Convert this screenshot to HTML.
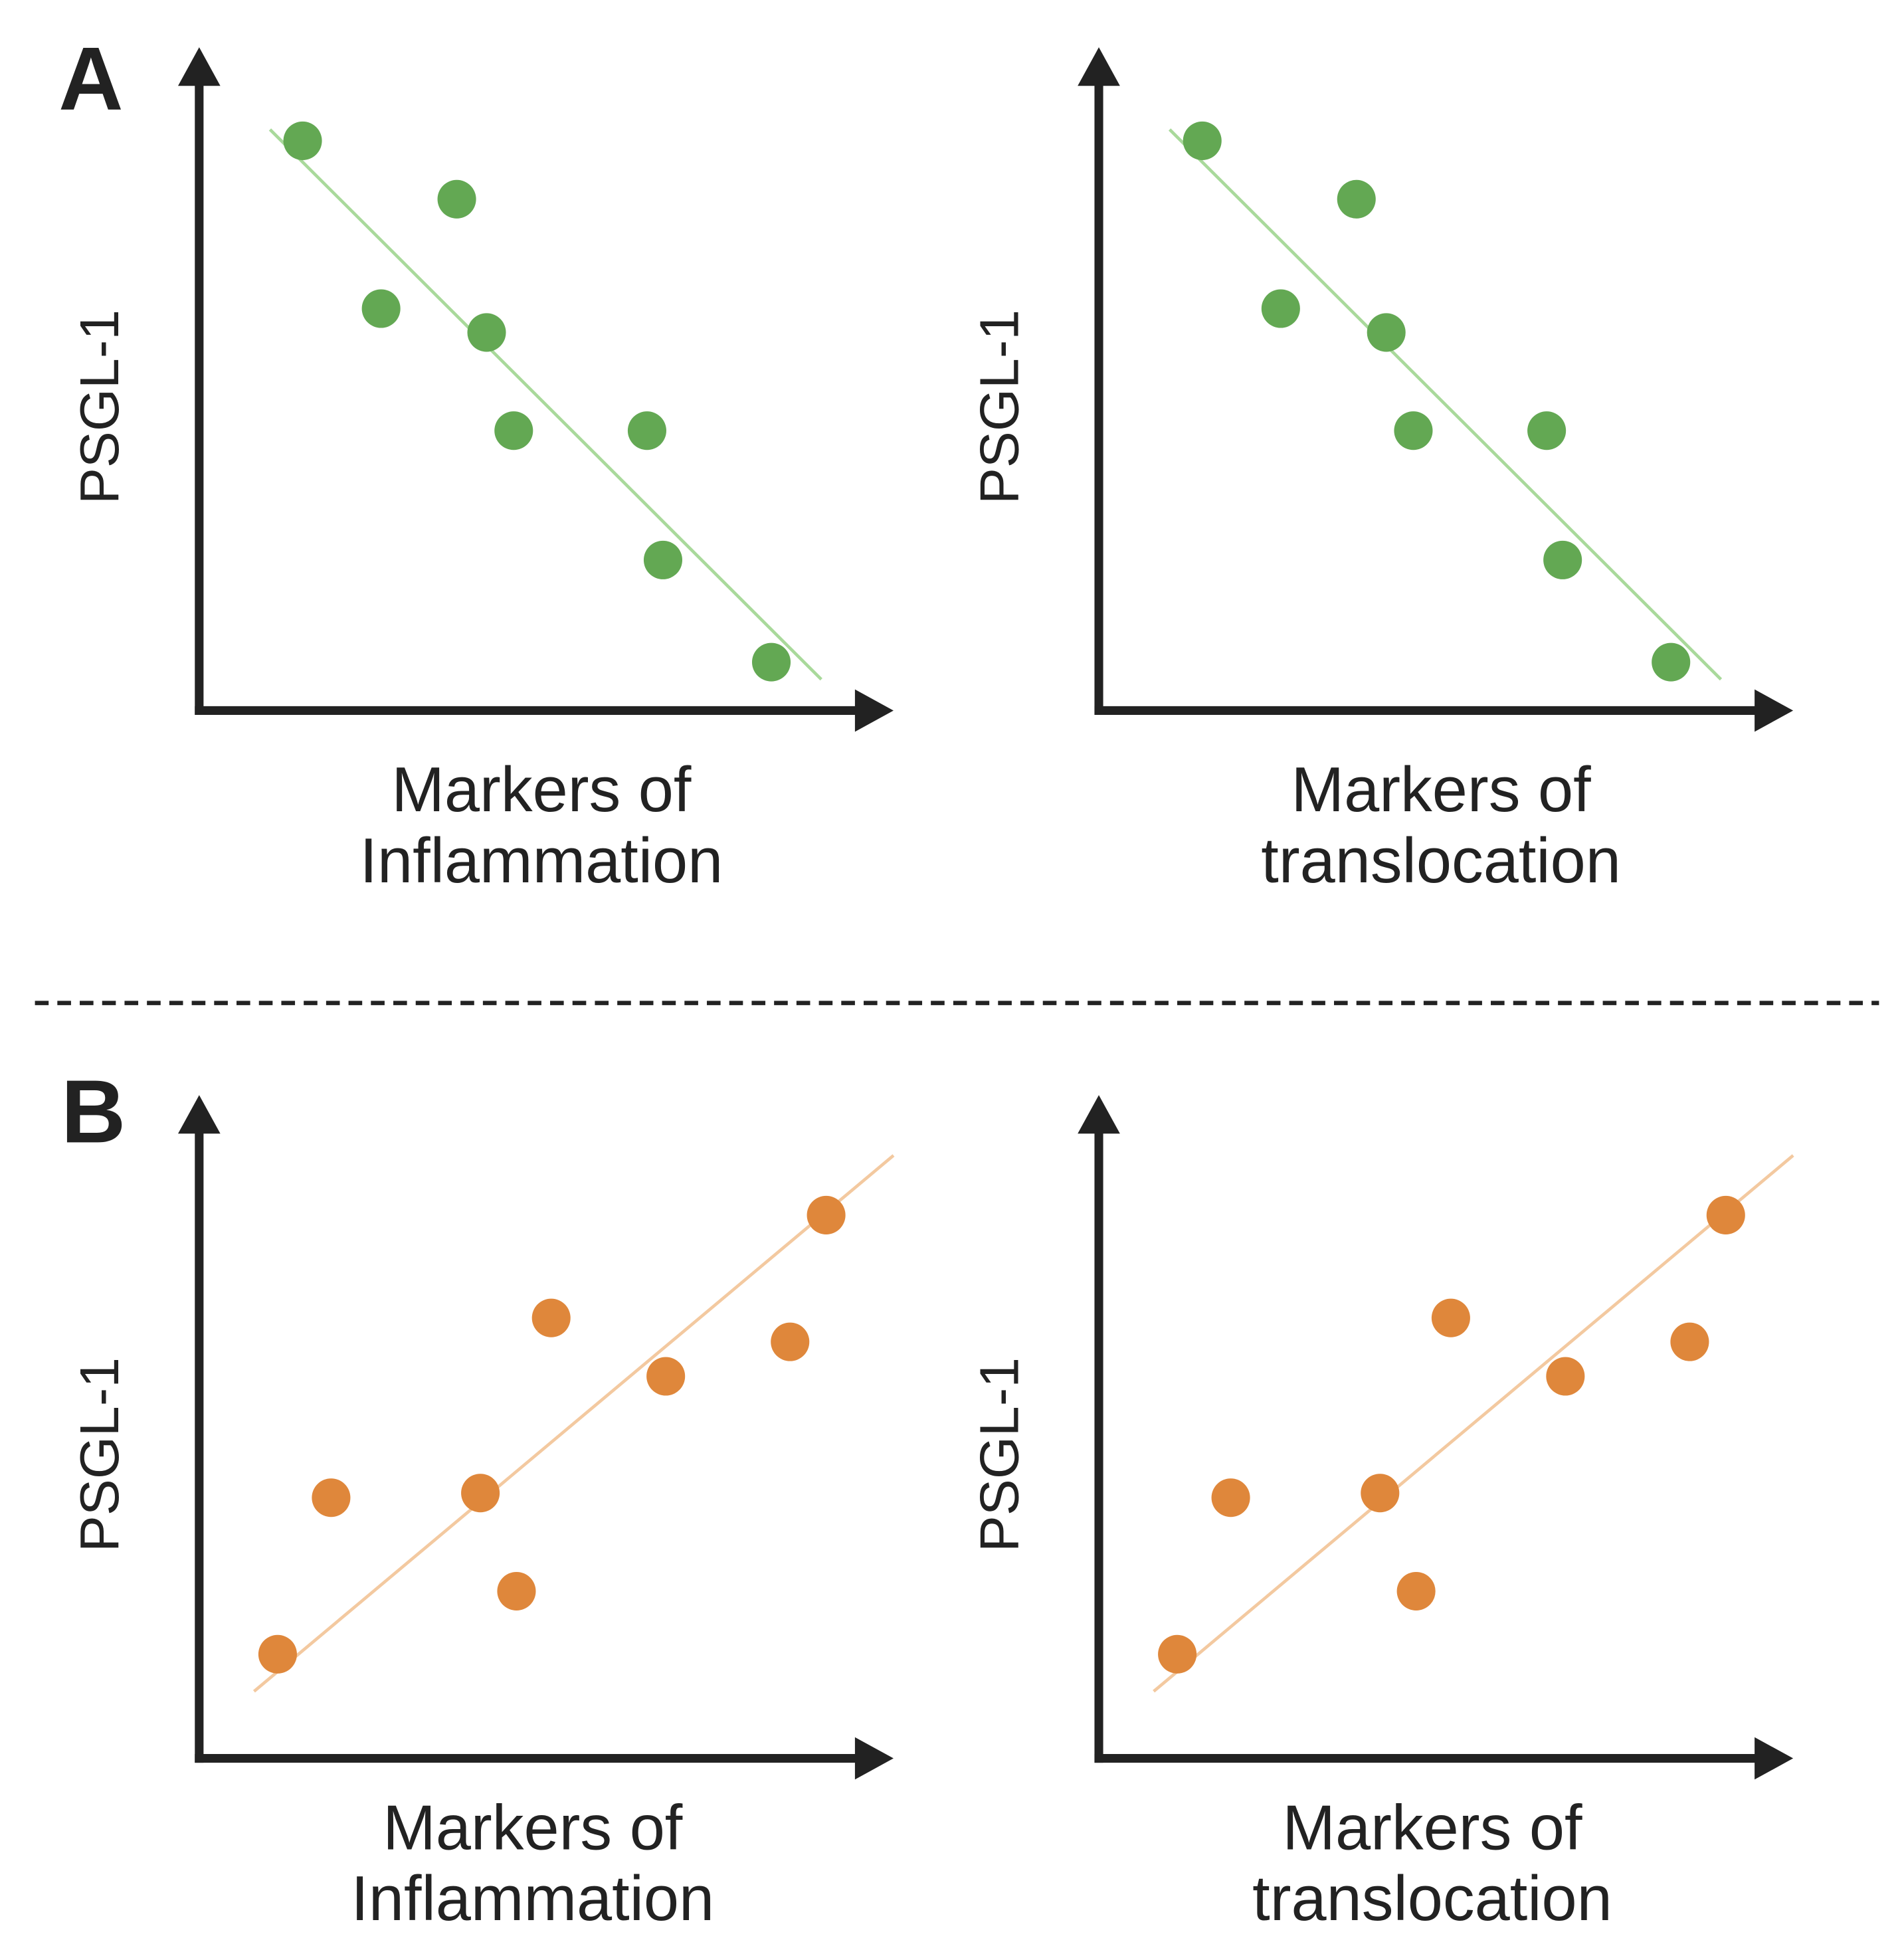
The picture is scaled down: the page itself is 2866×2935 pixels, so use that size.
<!DOCTYPE html>
<html><head><meta charset="utf-8"><style>
html,body{margin:0;padding:0;background:#fff}
svg{display:block}
text{font-family:"Liberation Sans",sans-serif;fill:#222}
</style></head><body>
<svg id="fig" width="2866" height="2935" viewBox="0 0 1530 1567" xmlns="http://www.w3.org/2000/svg">
<text x="47" y="88" font-size="72" font-weight="bold">A</text>
<text x="49" y="918" font-size="72" font-weight="bold">B</text>
<line x1="28" y1="806" x2="1510" y2="806" stroke="#222" stroke-width="3.5" stroke-dasharray="11 7"/>
<g id="plots"></g>
</svg>
<script>
// Panel A: negative correlation (green)
const aX = [1.49, 3.71, 2.62, 4.14, 4.53, 6.45, 6.68, 8.24];
const aY = [8.59, 7.71, 6.06, 5.70, 4.22, 4.22, 2.27, 0.73];
const aLineX = [1.02, 8.96];
const aLineY = [8.76, 0.47];
// Panel B: positive correlation (orange)
const bX = [1.13, 1.90, 4.05, 4.57, 5.07, 6.72, 8.51, 9.03];
const bY = [1.57, 3.93, 4.00, 2.52, 6.64, 5.76, 6.28, 8.19];
const bLineX = [0.79, 10.0];
const bLineY = [1.01, 9.09];
const xLabels = [["Markers of", "Inflammation"], ["Markers of", "translocation"]];
const yLabel = "PSGL-1";

const NS = "http://www.w3.org/2000/svg";
const root = document.getElementById('plots');
function mk(tag, attrs, parent) {
  const e = document.createElementNS(NS, tag);
  for (const k in attrs) e.setAttribute(k, attrs[k]);
  parent.appendChild(e);
  return e;
}
function panel(ox, oy, xs, ys, lx, ly, dot, lineCol, labels, name, ldx, ldy) {
  const g = mk('g', {}, root);
  
  
  const x0 = ox, x1 = ox + 558, y0 = oy, y1 = oy - 533;
  const sx = v => x0 + v * 55.8;
  const sy = v => y0 - v * 53.3;
  const yAx = mk('path', {d: `M${x0} ${y0} L${x0} ${y1+28}`, stroke: '#222', 'stroke-width': 7, fill: 'none', 'stroke-linecap': 'square'}, g);
  
  
  const yHead = mk('path', {d: `M${x0-17} ${y1+31} L${x0} ${y1} L${x0+17} ${y1+31} Z`, fill: '#222'}, g);
  
  
  const xAx = mk('path', {d: `M${x0} ${y0} L${x1-28} ${y0}`, stroke: '#222', 'stroke-width': 7, fill: 'none', 'stroke-linecap': 'square'}, g);
  
  
  const xHead = mk('path', {d: `M${x1-31} ${y0-17} L${x1} ${y0} L${x1-31} ${y0+17} Z`, fill: '#222'}, g);
  
  
  const tl = mk('line', {x1: sx(lx[0]), y1: sy(ly[0]), x2: sx(lx[1]), y2: sy(ly[1]), stroke: lineCol, 'stroke-width': 2.5}, g);
  
  
  xs.forEach((v, i) => {
    const c = mk('circle', {cx: sx(v), cy: sy(ys[i]), r: 15.5, fill: dot}, g);
    
    
  });
  const yl = mk('text', {x: 0, y: 0, 'font-size': 44, 'text-anchor': 'middle', transform: `translate(${x0-65} ${y0-244}) rotate(-90)`}, g);
  yl.textContent = yLabel;
  
  
  const cx = x0 + 275 + ldx;
  labels.forEach((t, i) => {
    const xl = mk('text', {x: cx, y: y0 + 81 + ldy + i * 57, 'font-size': 51, 'text-anchor': 'middle'}, g);
    xl.textContent = t;
    
    
  });
}
panel(160, 571, aX, aY, aLineX, aLineY, '#63a853', '#a9d99b', xLabels[0], 'panel-a-inflammation', 0, 0);
panel(883, 571, aX, aY, aLineX, aLineY, '#63a853', '#a9d99b', xLabels[1], 'panel-a-translocation', 0, 0);
panel(160, 1413, bX, bY, bLineX, bLineY, '#df873b', '#f3c9a0', xLabels[0], 'panel-b-inflammation', -7, -8);
panel(883, 1413, bX, bY, bLineX, bLineY, '#df873b', '#f3c9a0', xLabels[1], 'panel-b-translocation', -7, -8);
</script>
</body></html>
